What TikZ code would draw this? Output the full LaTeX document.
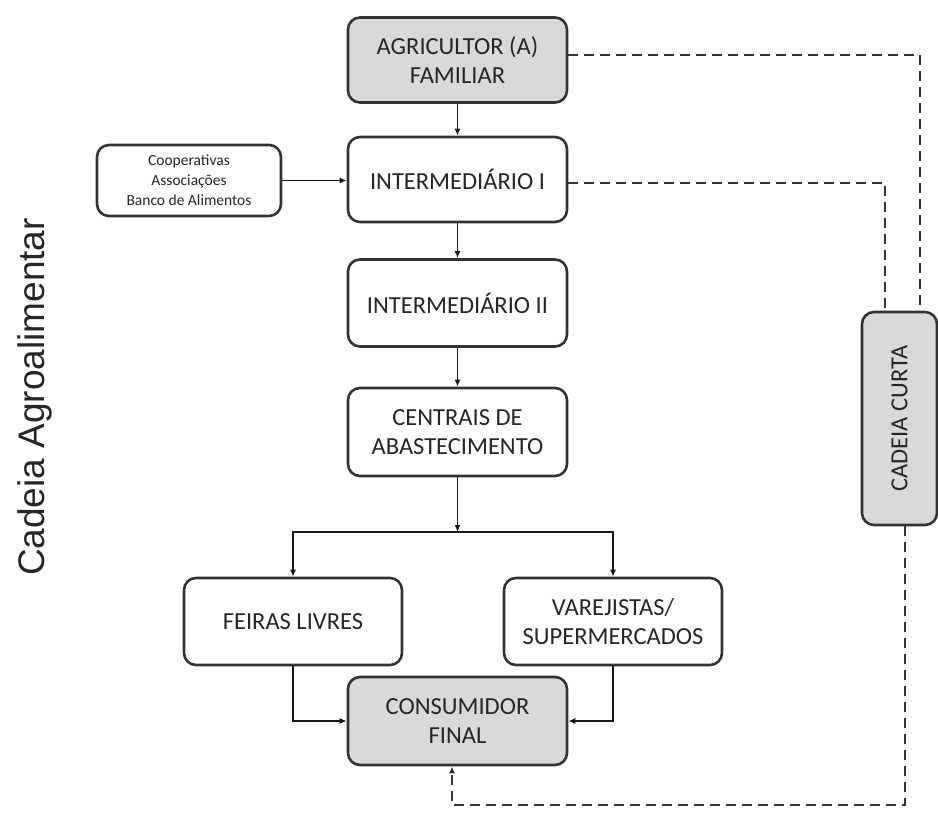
\documentclass[tikz,border=0pt]{standalone}
\usepackage{fontspec}
\setmainfont{Carlito}
\newfontfamily\arialf{Liberation Sans}
\usetikzlibrary{arrows.meta}
\definecolor{boxgray}{HTML}{D9D9D9}
\definecolor{linegray}{HTML}{333333}
\definecolor{txtgray}{HTML}{262626}
\tikzset{
  box/.style={draw=linegray, line width=2.6pt, rounded corners=12pt, minimum width=219pt, minimum height=85pt, align=center, text=txtgray, font=\fontsize{24.5}{28.5}\selectfont, inner sep=2pt},
  graybox/.style={box, fill=boxgray},
  arr/.style={draw=black!90, line width=1.6pt, -{Latex[length=7pt,width=6pt]}},
  dsh/.style={draw=linegray, line width=2.6pt, dash pattern=on 10pt off 6pt},
}
\begin{document}
\begin{tikzpicture}[x=1pt,y=-1pt]
\useasboundingbox[fill=white] (0,0) rectangle (938,813);
\node[graybox] (agr) at (457.5,60) {AGRICULTOR (A)\\FAMILIAR};
\node[box] (int1) at (457.5,179.5) {INTERMEDIÁRIO I};
\node[box, minimum width=184pt, minimum height=71pt, font=\fontsize{15.5}{20}\selectfont] (coop) at (189,180.5) {Cooperativas\\Associações\\Banco de Alimentos};
\node[box, minimum height=87pt] (int2) at (457.5,303) {INTERMEDIÁRIO II};
\node[box, minimum height=88pt] (cent) at (457.5,432) {CENTRAIS DE\\ABASTECIMENTO};
\node[box, minimum width=218pt, minimum height=87pt] (fei) at (293,621.5) {FEIRAS LIVRES};
\node[box, minimum width=218pt, minimum height=87pt] (var) at (613,621.5) {VAREJISTAS/\\SUPERMERCADOS};
\node[graybox, minimum height=88pt] (cons) at (457.5,721) {CONSUMIDOR\\FINAL};
\node[graybox, minimum width=75pt, minimum height=213pt] (curta) at (899.5,418.5) {};
\node[rotate=90, text=txtgray, font=\fontsize{24.5}{28}\selectfont] (curtatxt) at (curta.center) {CADEIA CURTA};
\node[rotate=90, text=txtgray, font=\arialf\fontsize{37}{42}\selectfont] (lbl) at (35,397) {Cadeia Agroalimentar};

\draw[arr] (agr.south) -- (int1.north);
\draw[arr] (coop.east) -- (coop.east -| int1.west);
\draw[arr] (int1.south) -- (int2.north);
\draw[arr] (int2.south) -- (cent.north);
\coordinate (br) at (457.5,532);
\draw[arr] (cent.south) -- (br);
\draw[arr] (br) -| (fei.north);
\draw[arr] (br) -| (var.north);
\draw[arr] (fei.south) |- (cons.west);
\draw[arr] (var.south) |- (cons.east);

\coordinate (d1) at (920,55);
\coordinate (d2) at (885,183);
\coordinate (d3) at (905,805);
\coordinate (d4) at (452,805);
\draw[dsh] (agr.east |- d1) -| (curta.north -| d1);
\draw[dsh] (int1.east |- d2) -| (curta.north -| d2);
\draw[dsh, -{Latex[length=7pt,width=6pt]}] (curta.south -| d3) -- (d3) -- (d4) -- (d4 |- cons.south);
\end{tikzpicture}
\end{document}
